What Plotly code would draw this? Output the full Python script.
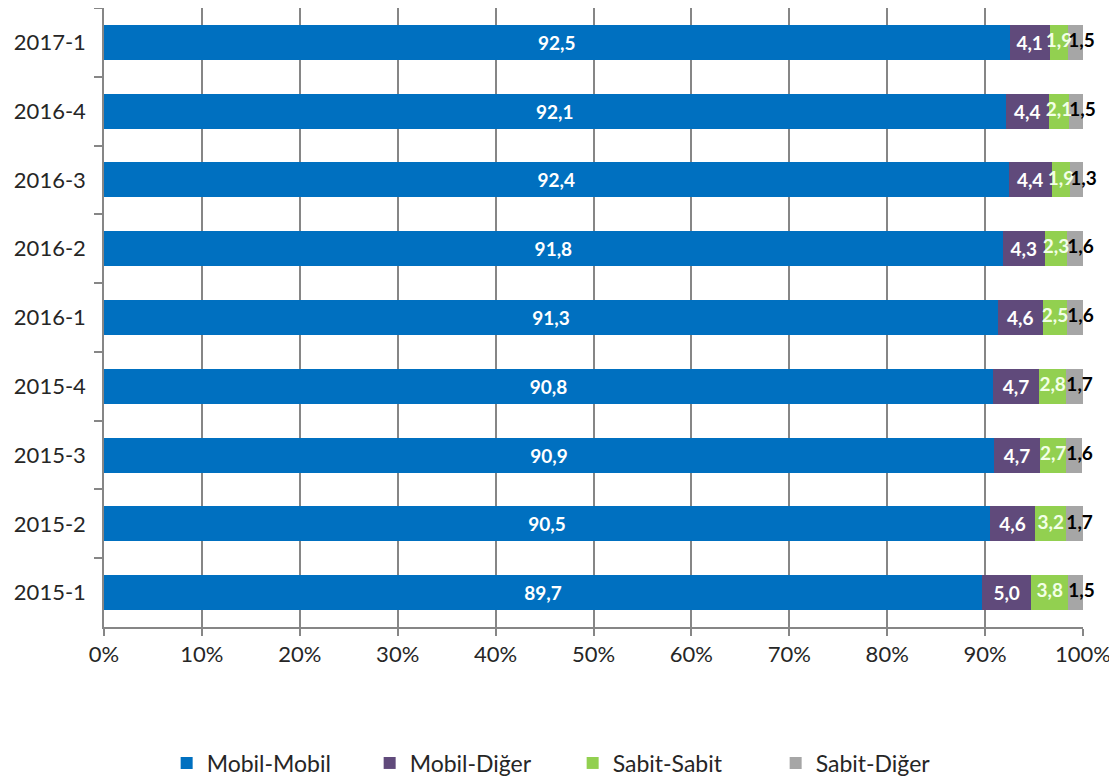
import plotly.graph_objects as go

periods = ["2017-1", "2016-4", "2016-3", "2016-2", "2016-1", "2015-4", "2015-3", "2015-2", "2015-1"]
mobil_mobil = [92.5, 92.1, 92.4, 91.8, 91.3, 90.8, 90.9, 90.5, 89.7]
mobil_diger = [4.1, 4.4, 4.4, 4.3, 4.6, 4.7, 4.7, 4.6, 5.0]
sabit_sabit = [1.9, 2.1, 1.9, 2.3, 2.5, 2.8, 2.7, 3.2, 3.8]
sabit_diger = [1.5, 1.5, 1.3, 1.6, 1.6, 1.7, 1.6, 1.7, 1.5]
x_ticks = [0, 10, 20, 30, 40, 50, 60, 70, 80, 90, 100]
x_tick_labels = [f"{v}%" for v in x_ticks]

series = [
    ("Mobil-Mobil", mobil_mobil, "#0070C0", "#FFFFFF"),
    ("Mobil-Diğer", mobil_diger, "#604A7B", "#FFFFFF"),
    ("Sabit-Sabit", sabit_sabit, "#92D050", "#F2FFE6"),
    ("Sabit-Diğer", sabit_diger, "#A6A6A6", "#000000"),
]

LABEL_FONT = "Lato"
LABEL_SIZE = 19

fig = go.Figure()
starts = [0.0] * len(periods)
label_traces = []
for idx, (name, vals, color, tcolor) in enumerate(series):
    inside = idx < 2
    fig.add_trace(go.Bar(
        y=periods, x=vals, name=name, orientation="h",
        marker=dict(color=color, line=dict(width=0)),
        texttemplate="%{x:.1f}" if inside else None,
        textposition="inside" if inside else "none",
        insidetextanchor="middle", textangle=0,
        textfont=dict(family=LABEL_FONT, size=LABEL_SIZE, color=tcolor, weight="bold"),
        constraintext="none", cliponaxis=False,
    ))
    if not inside:
        if idx == 2:
            xs = [s + v / 2 for s, v in zip(starts, vals)]
            pos = "middle center"
        else:
            xs = list(starts)
            pos = "middle right"
        label_traces.append(go.Scatter(
            x=xs, y=periods, mode="text", text=[f"{v:.1f}".replace(".", ",") for v in vals],
            textposition=pos, showlegend=False, hoverinfo="skip", cliponaxis=False,
            textfont=dict(family=LABEL_FONT, size=LABEL_SIZE, color=tcolor, weight="bold"),
        ))
    starts = [s + v for s, v in zip(starts, vals)]

for t in label_traces:
    fig.add_trace(t)

fig.update_layout(
    barmode="stack",
    bargap=0.49,
    separators=",.",
    width=1109, height=770,
    margin=dict(l=96, r=34, t=0, b=151, autoexpand=False),
    paper_bgcolor="white", plot_bgcolor="white",
    font=dict(family="Lato", size=22, color="#262626"),
    uniformtext=dict(minsize=LABEL_SIZE, mode="show"),
    showlegend=True,
    legend=dict(orientation="h", x=0.064, xanchor="left", y=-0.2197, yanchor="middle",
                entrywidth=158, entrywidthmode="pixels", traceorder="normal",
                font=dict(family="Lato", size=23, color="#262626")),
    xaxis=dict(range=[0, 100], tickvals=x_ticks, ticktext=x_tick_labels,
               showgrid=True, gridcolor="#868686", gridwidth=1.5,
               showline=True, linecolor="#868686", linewidth=1.5,
               ticks="outside", ticklen=7, tickcolor="#868686", tickwidth=1.5,
               zeroline=False, tickfont=dict(size=22), automargin=False),
    yaxis=dict(type="category", autorange="reversed", showline=True, linecolor="#868686", linewidth=1.5,
               ticks="outside", tickson="boundaries", ticklen=8, tickcolor="#868686",
               tickwidth=1.5, showgrid=False, tickfont=dict(size=22), automargin=False,
               ticklabelstandoff=12),
)

fig.write_html("out.html")
